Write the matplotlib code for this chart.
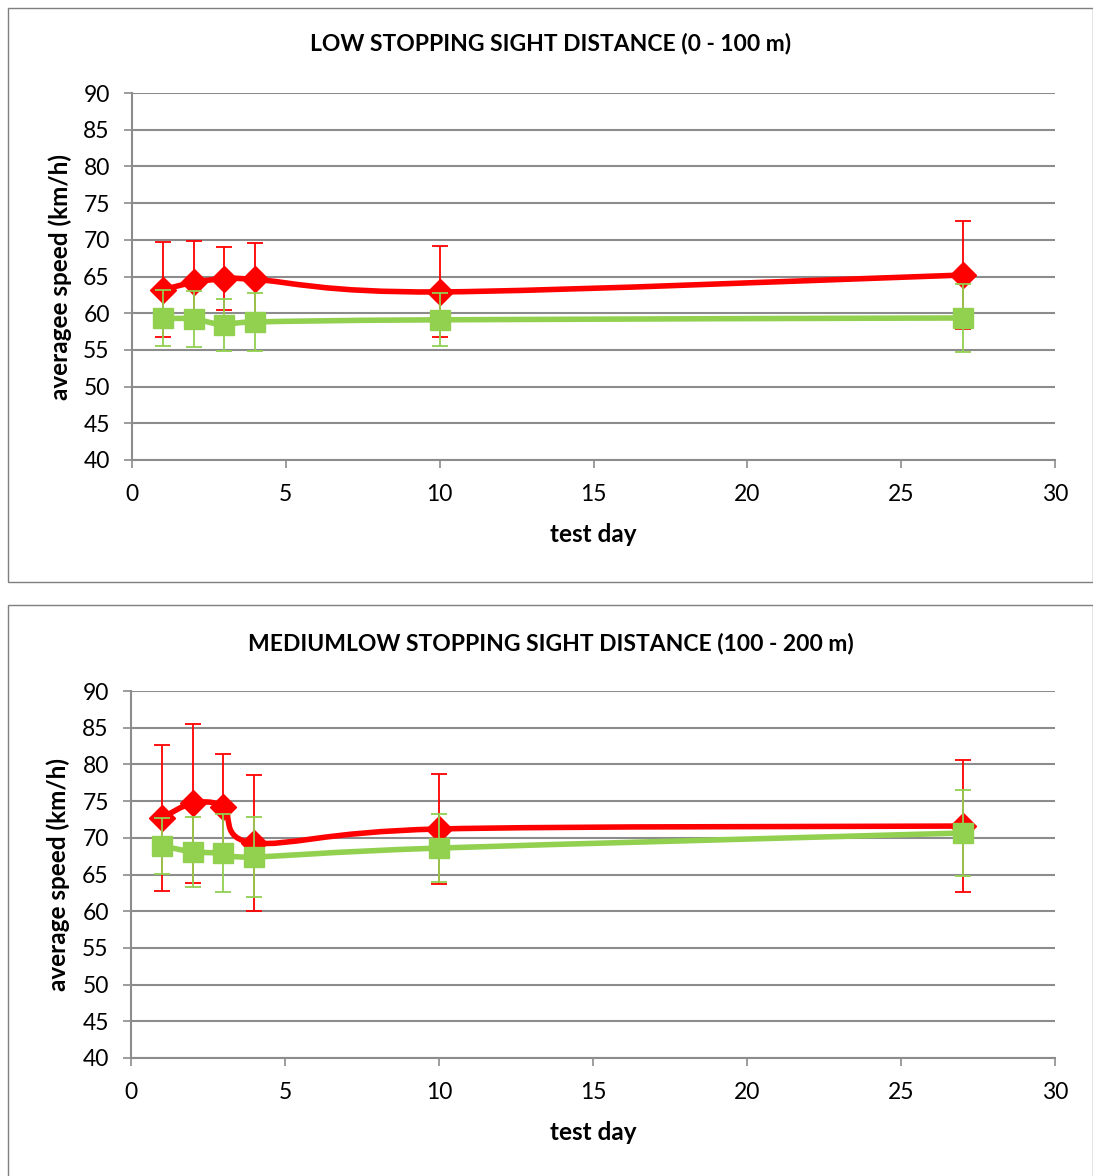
import matplotlib
matplotlib.use('Agg')
import matplotlib.pyplot as plt
from matplotlib.path import Path
from matplotlib.patches import PathPatch, Rectangle

plt.rcParams['font.family'] = ['Lato', 'DejaVu Sans']

days = [1, 2, 3, 4, 10, 27]

# Panel 1: low stopping sight distance
low_red = [63.2, 64.2, 64.7, 64.6, 62.9, 65.2]
low_red_err = [6.5, 5.6, 4.3, 5.0, 6.2, 7.4]
low_green = [59.3, 59.2, 58.4, 58.8, 59.1, 59.35]
low_green_err = [3.8, 3.8, 3.6, 4.0, 3.6, 4.6]

# Panel 2: mediumlow stopping sight distance
med_red = [72.7, 74.7, 74.2, 69.3, 71.2, 71.6]
med_red_err = [10.0, 10.8, 7.2, 9.3, 7.5, 9.0]
med_green = [68.9, 68.1, 67.9, 67.4, 68.6, 70.65]
med_green_err = [3.8, 4.8, 5.3, 5.5, 4.6, 5.8]

titles = ["LOW STOPPING SIGHT DISTANCE (0 - 100 m)",
          "MEDIUMLOW STOPPING SIGHT DISTANCE (100 - 200 m)"]
ylabels = ["averagee speed (km/h)", "average speed (km/h)"]
xlabel = "test day"
yticks = [40, 45, 50, 55, 60, 65, 70, 75, 80, 85, 90]
xticks = [0, 5, 10, 15, 20, 25, 30]

RED = '#FF0000'
GREEN = '#92D050'
GRID = '#8C8C8C'

W, H = 1093, 1176
fig = plt.figure(figsize=(W / 100, H / 100), dpi=100)


def smooth_path(xs, ys):
    pts = list(zip(xs, ys))
    verts = [pts[0]]
    codes = [Path.MOVETO]
    n = len(pts)
    for i in range(n - 1):
        p0 = pts[i - 1] if i > 0 else pts[i]
        p1 = pts[i]
        p2 = pts[i + 1]
        p3 = pts[i + 2] if i + 2 < n else pts[i + 1]
        c1 = (p1[0] + (p2[0] - p0[0]) / 6, p1[1] + (p2[1] - p0[1]) / 6)
        c2 = (p2[0] - (p3[0] - p1[0]) / 6, p2[1] - (p3[1] - p1[1]) / 6)
        verts += [c1, c2, p2]
        codes += [Path.CURVE4] * 3
    return Path(verts, codes)


def box(x0, y0, x1, y1):
    fig.patches.append(Rectangle((x0 / W, 1 - y1 / H), (x1 - x0) / W, (y1 - y0) / H,
                                 transform=fig.transFigure, fill=False,
                                 edgecolor='#7F7F7F', linewidth=1.0))


box(7.5, 7.5, 1092.5, 582)
box(7.5, 605, 1092.5, 1180)

panels = [
    dict(left=132, right=1055, top=93, bottom=460, title_y=44, xlab_y=535, ylab_x=60,
         red=low_red, rede=low_red_err, green=low_green, greene=low_green_err),
    dict(left=131, right=1055, top=691, bottom=1058, title_y=643, xlab_y=1133, ylab_x=58,
         red=med_red, rede=med_red_err, green=med_green, greene=med_green_err),
]

for k, p in enumerate(panels):
    ax = fig.add_axes([p['left'] / W, 1 - p['bottom'] / H,
                       (p['right'] - p['left']) / W, (p['bottom'] - p['top']) / H])
    ax.set_xlim(0, 30)
    ax.set_ylim(40, 90)
    ax.set_xticks(xticks)
    ax.set_yticks(yticks)
    ax.tick_params(axis='both', labelsize=16.5, color=GRID, length=6, width=1.2,
                   direction='out', labelcolor='black')
    ax.tick_params(axis='x', pad=11)
    ax.tick_params(axis='y', pad=10)
    for s in ['top', 'right']:
        ax.spines[s].set_visible(False)
    for s in ['left', 'bottom']:
        ax.spines[s].set_color(GRID)
        ax.spines[s].set_linewidth(1.5)
    ax.yaxis.grid(True, color=GRID, linewidth=1.5)
    ax.set_axisbelow(True)

    # red series
    ax.errorbar(days, p['red'], yerr=p['rede'], fmt='none', ecolor=RED,
                elinewidth=1.3, capsize=6, capthick=1.3, zorder=3)
    ax.add_patch(PathPatch(smooth_path(days, p['red']), fill=False,
                           edgecolor=RED, linewidth=4, zorder=4,
                           capstyle='round', joinstyle='round'))
    ax.plot(days, p['red'], linestyle='none', marker='D', markersize=13,
            color=RED, zorder=5)

    # green series
    ax.errorbar(days, p['green'], yerr=p['greene'], fmt='none', ecolor=GREEN,
                elinewidth=1.3, capsize=6, capthick=1.3, zorder=6)
    ax.add_patch(PathPatch(smooth_path(days, p['green']), fill=False,
                           edgecolor=GREEN, linewidth=4, zorder=7,
                           capstyle='round', joinstyle='round'))
    ax.plot(days, p['green'], linestyle='none', marker='s', markersize=14.5,
            color=GREEN, zorder=8)

    fig.text(551 / W, 1 - p['title_y'] / H, titles[k],
             ha='center', va='center', fontsize=16.5, fontweight='bold')
    fig.text((p['left'] + p['right']) / 2 / W, 1 - p['xlab_y'] / H, xlabel,
             ha='center', va='center', fontsize=17.5, fontweight='bold')
    fig.text(p['ylab_x'] / W, 1 - ((p['top'] + p['bottom']) / 2) / H, ylabels[k],
             ha='center', va='center', rotation=90, fontsize=17.5, fontweight='bold')

fig.savefig('out.png', dpi=100)
